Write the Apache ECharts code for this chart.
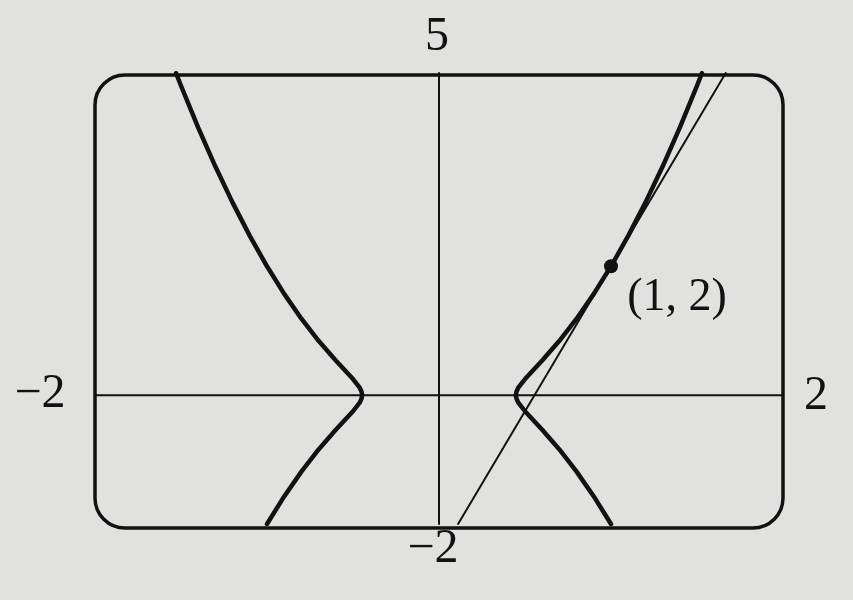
<!DOCTYPE html>
<html>
<head>
<meta charset="utf-8">
<script src="https://cdn.jsdelivr.net/npm/echarts@6/dist/echarts.min.js"></script>
<style>
html,body{margin:0;padding:0;background:#e1e1df;}
#c{width:853px;height:600px;}
</style>
</head>
<body>
<div id="c"></div>
<script>
// Window: x in [-2, 2], y in [-2, 5]
var xRange = [-2, 2];
var yRange = [-2, 5];
var tickLabels = { top: '5', bottom: '\u22122', left: '\u22122', right: '2' };
var pointLabel = '(1, 2)';
var point = [[1, 2]];

// Curve branches
var upperRight = [[0.447,0],[0.45,0.05],[0.46,0.111],[0.5,0.25],[0.55,0.394],[0.6,0.537],[0.7,0.843],[0.8,1.187],[0.9,1.572],[1.0,2.0],[1.1,2.472],[1.2,2.988],[1.3,3.548],[1.4,4.153],[1.5,4.802],[1.529,5.0]];
var lowerRight = [[0.447,0],[0.45,-0.05],[0.46,-0.111],[0.5,-0.25],[0.55,-0.394],[0.6,-0.537],[0.7,-0.843],[0.8,-1.187],[0.9,-1.572],[1.0,-2.0]];
var upperLeft = [[-0.447,0],[-0.45,0.05],[-0.46,0.111],[-0.5,0.25],[-0.55,0.394],[-0.6,0.537],[-0.7,0.843],[-0.8,1.187],[-0.9,1.572],[-1.0,2.0],[-1.1,2.472],[-1.2,2.988],[-1.3,3.548],[-1.4,4.153],[-1.5,4.802],[-1.529,5.0]];
var lowerLeft = [[-0.447,0],[-0.45,-0.05],[-0.46,-0.111],[-0.5,-0.25],[-0.55,-0.394],[-0.6,-0.537],[-0.7,-0.843],[-0.8,-1.187],[-0.9,-1.572],[-1.0,-2.0]];
var tangentLine = [[0.111,-2],[1.667,5]];
var xAxisLine = [[-2,0],[2,0]];
var yAxisLine = [[0,-2],[0,5]];

var ink = '#121212';
var font = '"Liberation Serif", "DejaVu Serif", serif';

var chart = echarts.init(document.getElementById('c'));

function curve(data, w) {
  return { type: 'line', data: data, showSymbol: false, symbol: 'none', clip: true, silent: true,
    lineStyle: { color: ink, width: w, opacity: 1, cap: 'round', join: 'round' }, z: 3 };
}

var option = {
  backgroundColor: '#e1e1df',
  animation: false,
  grid: { left: 95, right: 70, top: 73, bottom: 76 },
  xAxis: { type: 'value', min: xRange[0], max: xRange[1], axisLine: {show:false}, axisTick:{show:false}, axisLabel:{show:false}, splitLine:{show:false} },
  yAxis: { type: 'value', min: yRange[0], max: yRange[1], axisLine: {show:false}, axisTick:{show:false}, axisLabel:{show:false}, splitLine:{show:false} },
  graphic: [
    { type: 'rect', shape: { x: 95, y: 75, width: 688, height: 453, r: 30 }, style: { fill: 'none', stroke: ink, lineWidth: 3.5 }, z: 10 },
    { type: 'text', x: 437, y: 37, style: { text: tickLabels.top, font: '48px ' + font, fill: ink, textAlign: 'center', textVerticalAlign: 'middle' } },
    { type: 'text', x: 433, y: 549, style: { text: tickLabels.bottom, font: '48px ' + font, fill: ink, textAlign: 'center', textVerticalAlign: 'middle' } },
    { type: 'text', x: 40, y: 394, style: { text: tickLabels.left, font: '48px ' + font, fill: ink, textAlign: 'center', textVerticalAlign: 'middle' } },
    { type: 'text', x: 816, y: 396, style: { text: tickLabels.right, font: '48px ' + font, fill: ink, textAlign: 'center', textVerticalAlign: 'middle' } },
    { type: 'text', x: 677, y: 298, style: { text: pointLabel, font: '46px ' + font, fill: ink, textAlign: 'center', textVerticalAlign: 'middle' } }
  ],
  series: [
    curve(xAxisLine, 2),
    curve(yAxisLine, 2),
    curve(tangentLine, 2),
    curve(upperRight, 4.5),
    curve(lowerRight, 4.5),
    curve(upperLeft, 4.5),
    curve(lowerLeft, 4.5),
    { type: 'scatter', data: point, symbol: 'circle', symbolSize: 14, itemStyle: { color: ink, opacity: 1 }, silent: true, z: 5 }
  ]
};
chart.setOption(option);
</script>
</body>
</html>
